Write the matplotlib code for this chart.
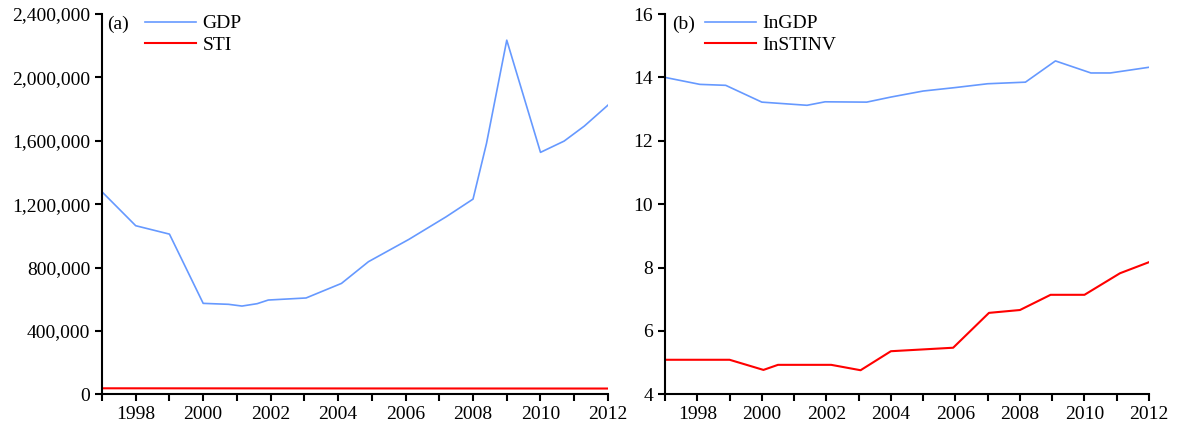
import numpy as np
import matplotlib.pyplot as plt
from matplotlib.ticker import FuncFormatter, MultipleLocator

plt.rcParams['font.family'] = ['Liberation Serif', 'DejaVu Serif']
plt.rcParams['font.size'] = 14

# panel (a)
gdp_year = [1997, 1998, 1999, 2000, 2000.75, 2001.15, 2001.6, 2001.93, 2003.05,
            2004.1, 2004.9, 2006.1, 2007.2, 2008.0, 2008.4, 2009.0, 2010.0,
            2010.7, 2011.3, 2012.0]
gdp = [1278000, 1064000, 1011000, 574000, 568000, 557000, 572000, 595000, 608000,
       700000, 837000, 978000, 1120000, 1232000, 1584000, 2235000, 1527000,
       1598000, 1693000, 1825000]
sti_year = [1997, 2004.7, 2012]
sti = [38000, 37000, 36500]

# panel (b)
lngdp_year = [1997, 1998.08, 1998.88, 2000, 2001.4, 2001.96, 2003.25, 2004.0,
              2005.0, 2006.0, 2007.0, 2008.17, 2009.1, 2010.2, 2010.8, 2012.0]
lngdp = [14.0, 13.78, 13.75, 13.22, 13.12, 13.23, 13.22, 13.38, 13.57, 13.68,
         13.8, 13.85, 14.52, 14.14, 14.14, 14.32]
lnsti_year = [1997, 1999, 2000.05, 2000.5, 2002.15, 2003.06, 2004.0, 2005.93,
              2007.04, 2008.0, 2008.95, 2010.0, 2011.1, 2012.0]
lnsti = [5.09, 5.09, 4.77, 4.93, 4.93, 4.76, 5.36, 5.47, 6.57, 6.66, 7.14, 7.14,
         7.82, 8.17]

blue = '#6699FF'
red = '#FF0000'

fig = plt.figure(figsize=(11.97, 4.25), dpi=100)
ax1 = fig.add_axes([0.0852, 0.0722, 0.4227, 0.8948])
ax2 = fig.add_axes([0.5556, 0.0722, 0.4043, 0.8948])

def style(ax):
	for s in ['top', 'right']:
		ax.spines[s].set_visible(False)
	for s in ['left', 'bottom']:
		ax.spines[s].set_linewidth(1.5)
	ax.set_xlim(1997, 2012)
	ax.xaxis.set_minor_locator(MultipleLocator(1))
	ax.set_xticks(range(1998, 2013, 2))
	ax.tick_params(axis='both', which='major', direction='out', length=5, width=1.5, labelsize=14)
	ax.tick_params(axis='x', which='minor', direction='out', length=5, width=1.5)

def legend(ax, x):
	ax.legend(loc='upper left', bbox_to_anchor=(x, 0.998), frameon=False, borderpad=0,
	          borderaxespad=0, handlelength=2.6, handletextpad=0.35, labelspacing=0.22,
	          fontsize=14)

ax1.plot(gdp_year, gdp, color=blue, lw=1.2, label='GDP')
ax1.plot(sti_year, sti, color=red, lw=1.5, label='STI')
style(ax1)
ax1.set_ylim(0, 2400000)
ax1.set_yticks(np.arange(0, 2400001, 400000))
ax1.yaxis.set_major_formatter(FuncFormatter(lambda v, p: '{:,.0f}'.format(v)))
ax1.text(0.011, 0.995, '(a)', transform=ax1.transAxes, va='top', ha='left', fontsize=14)
legend(ax1, 0.085)

ax2.plot(lngdp_year, lngdp, color=blue, lw=1.2, label='InGDP')
ax2.plot(lnsti_year, lnsti, color=red, lw=1.5, label='InSTINV')
style(ax2)
ax2.set_ylim(4, 16)
ax2.set_yticks(range(4, 17, 2))
ax2.text(0.014, 0.995, '(b)', transform=ax2.transAxes, va='top', ha='left', fontsize=14)
legend(ax2, 0.083)

fig.savefig('out.png', dpi=100)
